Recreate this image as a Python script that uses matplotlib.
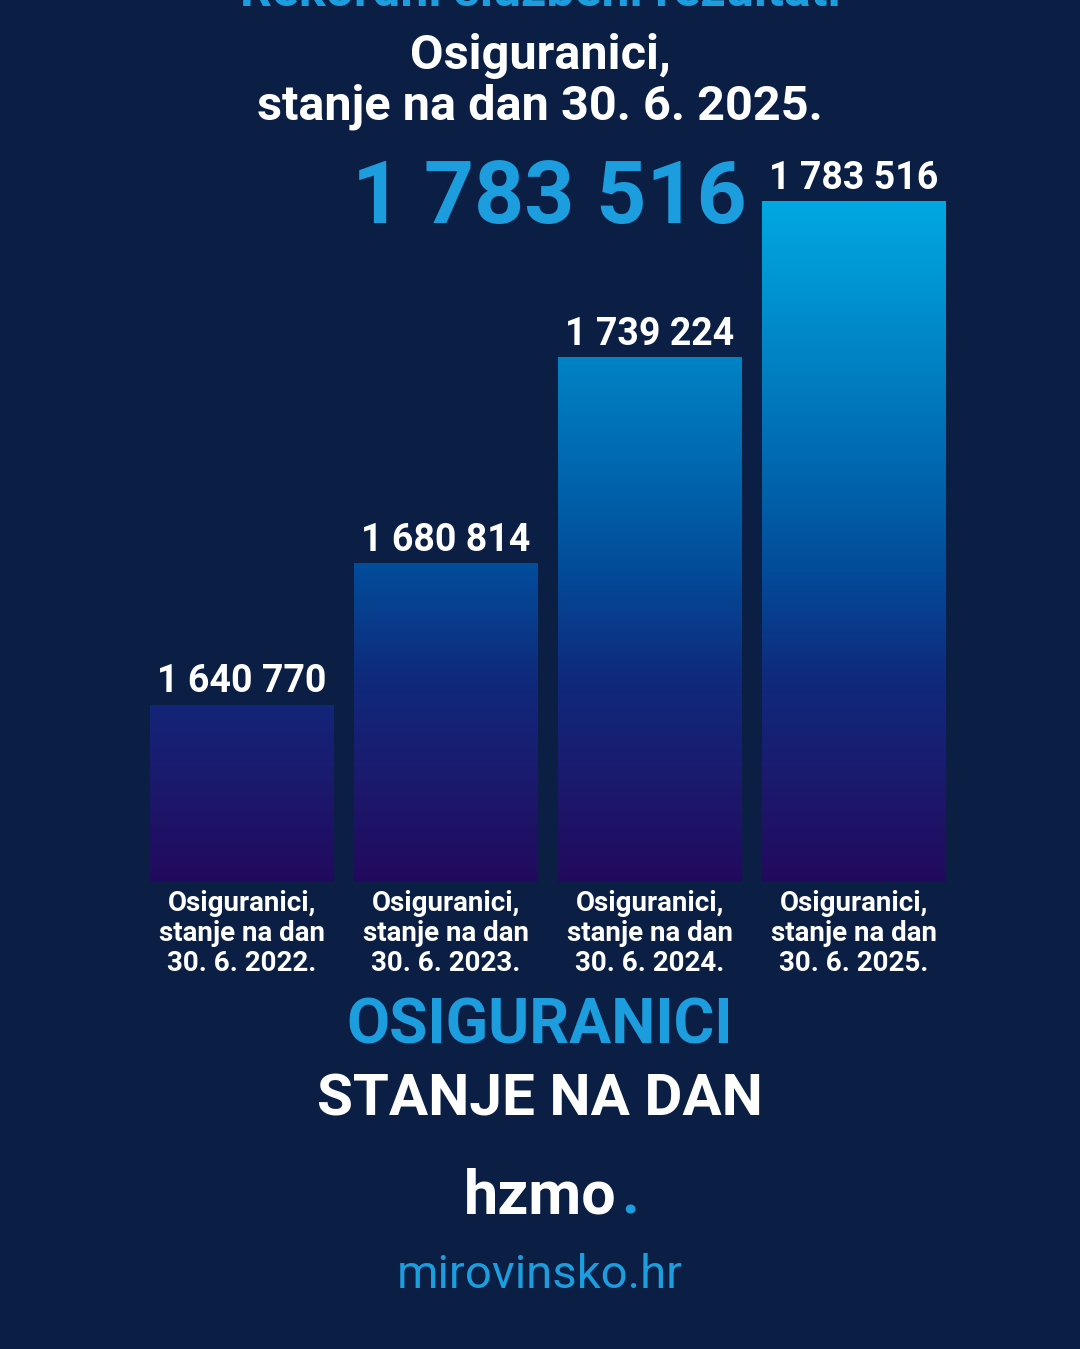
import numpy as np
import matplotlib
matplotlib.use("Agg")
import matplotlib.pyplot as plt
from matplotlib.colors import LinearSegmentedColormap

## Data
#
years = ["2022", "2023", "2024", "2025"]
values = [1640770, 1680814, 1739224, 1783516]
cat_labels = ["Osiguranici,\nstanje na dan\n30. 6. %s." % y for y in years]
headline = "1 783 516"

BG = "#0b1f45"
BLUE = "#1c9ddd"
FONT = "Roboto"

W, H = 1080, 1349
fig = plt.figure(figsize=(W / 100, H / 100), dpi=100, facecolor=BG)

def fy(px):
    return 1 - px / H

def fx(px):
    return px / W

# axis range chosen so bar heights fit the picture (baseline is not zero)
YMIN = 1590450
YMAX = 1797980
ax = fig.add_axes([fx(140), fy(882), fx(816), (882 - 150) / H])
ax.set_facecolor(BG)
ax.set_xlim(-0.5, 3.5)
ax.set_ylim(YMIN, YMAX)
ax.axis("off")

xs = np.arange(len(values))
bars = ax.bar(xs, [v - YMIN for v in values], bottom=YMIN, width=0.9,
              color="none", edgecolor="none")

grad_cmap = LinearSegmentedColormap.from_list("bars", [
    (0.0, "#220a5e"),
    (0.15, "#1b1a6e"),
    (0.3, "#0f2a7c"),
    (0.45, "#034a98"),
    (0.6, "#0066ae"),
    (0.85, "#0090cf"),
    (1.0, "#00a8e2"),
])
grad = np.linspace(0, 1, 256).reshape(-1, 1)
for b in bars:
    x0 = b.get_x()
    im = ax.imshow(grad, extent=[x0, x0 + b.get_width(), YMIN, max(values)],
                   origin="lower", aspect="auto", cmap=grad_cmap, zorder=2)
    im.set_clip_path(b)

for x, v in zip(xs, values):
    ax.annotate("{:,}".format(v).replace(",", " "), (x, v), xytext=(0, 3),
                textcoords="offset points", ha="center", va="bottom",
                color="white", fontsize=27, fontweight="bold", family=FONT)

for x, lab in zip(xs, cat_labels):
    ax.annotate(lab, (x, YMIN), xytext=(0, -6), textcoords="offset points",
                ha="center", va="top", color="white", fontsize=20,
                fontweight="bold", family=FONT, linespacing=1.13)

## Headings and footer
#
# the top heading is cut by the picture's edge, as in the original crop
fig.text(0.5, fy(-8), "Rekordni službeni rezultati", ha="center", va="center",
         color=BLUE, fontsize=36, fontweight="bold", family=FONT)
fig.text(0.5, fy(56), "Osiguranici,", ha="center", va="center",
         color="white", fontsize=35, fontweight="bold", family=FONT)
fig.text(0.5, fy(107), "stanje na dan 30. 6. 2025.", ha="center", va="center",
         color="white", fontsize=35, fontweight="bold", family=FONT)
fig.text(fx(549), fy(199), headline, ha="center", va="center",
         color=BLUE, fontsize=63, fontweight="bold", family=FONT)

fig.text(0.5, fy(1027), "OSIGURANICI", ha="center", va="center",
         color=BLUE, fontsize=45, fontweight="bold", family=FONT)
fig.text(0.5, fy(1100), "STANJE NA DAN", ha="center", va="center",
         color="white", fontsize=42, fontweight="bold", family=FONT)

fig.text(fx(540), fy(1197), "hzmo", ha="center", va="center",
         color="white", fontsize=44, fontweight="bold", family=FONT)
fig.text(fx(630), fy(1197), ".", ha="center", va="center",
         color=BLUE, fontsize=44, fontweight="bold", family=FONT)
fig.text(0.5, fy(1275), "mirovinsko.hr", ha="center", va="center",
         color=BLUE, fontsize=34, family=FONT)

fig.savefig("out.png", dpi=100, facecolor=BG)
